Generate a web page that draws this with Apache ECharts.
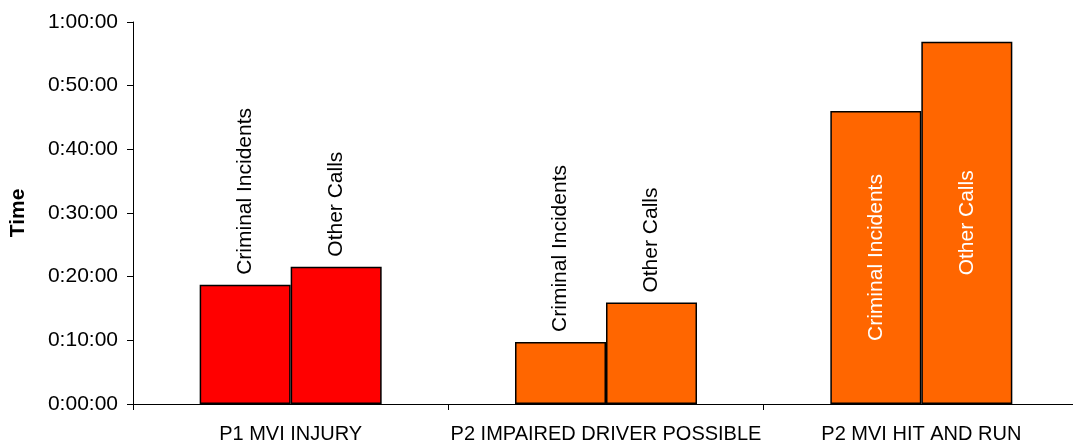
<!DOCTYPE html>
<html>
<head>
<meta charset="utf-8">
<script src="https://cdn.jsdelivr.net/npm/echarts@6/dist/echarts.min.js"></script>
<style>
html,body{margin:0;padding:0;background:#fff;overflow:hidden;width:1073px;height:444px;}
#chart{width:1080px;height:444px;}
</style>
</head>
<body>
<div id="chart"></div>
<script>
// Data (values in seconds)
const categories = ['P1 MVI INJURY', 'P2 IMPAIRED DRIVER POSSIBLE', 'P2 MVI HIT AND RUN'];
const seriesNames = ['Criminal Incidents', 'Other Calls'];
const criminalIncidents = [1123, 585, 2761];
const otherCalls = [1294, 956, 3415];
const yTicks = [0, 600, 1200, 1800, 2400, 3000, 3600];

const categoryColors = ['#FF0000', '#FF6600', '#FF6600'];
const labelInside = [false, false, true];

function fmt(sec) {
  const h = Math.floor(sec / 3600);
  const m = Math.floor((sec % 3600) / 60);
  const s = Math.round(sec % 60);
  return h + ':' + String(m).padStart(2, '0') + ':' + String(s).padStart(2, '0');
}

function buildData(values, name) {
  return values.map((v, i) => ({
    value: v,
    itemStyle: { color: categoryColors[i], borderColor: '#000', borderWidth: 1.5 },
    label: labelInside[i] ? {
      show: true, position: 'inside', rotate: 90, align: 'center', verticalAlign: 'middle',
      color: '#fff', fontSize: 21, fontFamily: 'Liberation Sans, Arial, sans-serif',
      formatter: name
    } : {
      show: true, position: 'top', rotate: 90, align: 'left', verticalAlign: 'middle', distance: 10,
      color: '#000', fontSize: 21, fontFamily: 'Liberation Sans, Arial, sans-serif',
      formatter: name
    }
  }));
}

const chart = echarts.init(document.getElementById('chart'), null, { renderer: 'canvas' });
chart.setOption({
  animation: false,
  grid: { left: 133, top: 22, right: 1, bottom: 39, containLabel: false },
  xAxis: {
    type: 'category',
    data: categories,
    axisLine: { lineStyle: { color: '#000', width: 1 } },
    axisTick: { show: true, length: 6, alignWithLabel: false, lineStyle: { color: '#000' } },
    axisLabel: { color: '#000', fontSize: 20, fontFamily: 'Liberation Sans, Arial, sans-serif', margin: 20, interval: 0 },
    splitLine: { show: false }
  },
  yAxis: {
    type: 'value',
    min: yTicks[0],
    max: yTicks[yTicks.length - 1],
    interval: yTicks[1] - yTicks[0],
    name: 'Time',
    nameLocation: 'middle',
    nameGap: 104,
    nameRotate: 90,
    nameTextStyle: { color: '#000', fontSize: 21, fontWeight: 'bold', fontFamily: 'Liberation Sans, Arial, sans-serif' },
    axisLine: { show: true, lineStyle: { color: '#000', width: 1 } },
    axisTick: { show: true, length: 6, lineStyle: { color: '#000' } },
    axisLabel: { color: '#000', fontSize: 21, fontFamily: 'Liberation Sans, Arial, sans-serif', margin: 15, formatter: fmt },
    splitLine: { show: false }
  },
  series: [
    { name: seriesNames[0], type: 'bar', barWidth: 91, barGap: '0%', data: buildData(criminalIncidents, seriesNames[0]) },
    { name: seriesNames[1], type: 'bar', barWidth: 91, barGap: '0%', data: buildData(otherCalls, seriesNames[1]) }
  ]
});
</script>
</body>
</html>
